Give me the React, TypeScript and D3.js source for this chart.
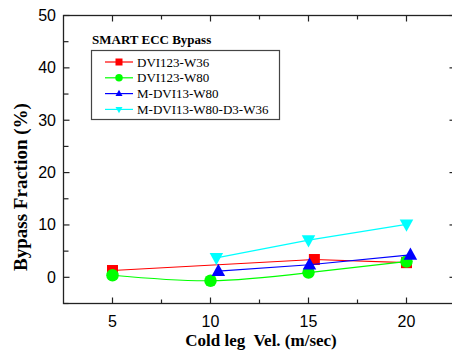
import React from 'react';
import * as d3 from 'd3';

// values
const red_x = [5, 15.3, 20];
const red_y = [1.3, 3.4, 2.8];
const green_x = [5, 10, 15, 20];
const green_y = [0.4, -0.65, 0.9, 3.0];
const blue_x = [10.4, 15.05, 20.2];
const blue_y = [1.2, 2.4, 4.3];
const cyan_x = [10.3, 15, 20];
const cyan_y = [3.7, 7.1, 10.1];

const seriesNames = ['DVI123-W36', 'DVI123-W80', 'M-DVI13-W80', 'M-DVI13-W80-D3-W36'];
const xTicks = [5, 10, 15, 20];
const xMinor = [7.5, 12.5, 17.5];
const yTicks = [0, 10, 20, 30, 40, 50];
const yMinor = [-5, 5, 15, 25, 35, 45];

const W = 452;
const H = 360;

const serif = '"Liberation Serif", "Times New Roman", serif';
const sans = '"Liberation Sans", Arial, sans-serif';

const x = d3.scaleLinear().domain([2.5, 22.5]).range([63.5, 455.5]);
const y = d3.scaleLinear().domain([-5, 50]).range([303.5, 15.5]);

type Pt = [number, number];
const zip = (xs: number[], ys: number[]): Pt[] => xs.map((v, i) => [v, ys[i]]);

const series = [
  { name: seriesNames[0], color: '#ff0000', shape: 'square', pts: zip(red_x, red_y), curve: d3.curveLinear },
  { name: seriesNames[1], color: '#00ff00', shape: 'circle', pts: zip(green_x, green_y), curve: d3.curveNatural },
  { name: seriesNames[2], color: '#0000ff', shape: 'up', pts: zip(blue_x, blue_y), curve: d3.curveLinear },
  { name: seriesNames[3], color: '#00ffff', shape: 'down', pts: zip(cyan_x, cyan_y), curve: d3.curveLinear },
];

function Marker({ shape, cx, cy, color, s }: { shape: string; cx: number; cy: number; color: string; s: number }) {
  if (shape === 'square') {
    return <rect x={cx - s / 2} y={cy - s / 2} width={s} height={s} fill={color} />;
  }
  if (shape === 'circle') {
    return <circle cx={cx} cy={cy} r={s / 2} fill={color} />;
  }
  const h = s * 0.9;
  const pts = shape === 'up'
    ? [[cx, cy - h * 0.6], [cx - s / 2, cy + h * 0.4], [cx + s / 2, cy + h * 0.4]]
    : [[cx, cy + h * 0.6], [cx - s / 2, cy - h * 0.4], [cx + s / 2, cy - h * 0.4]];
  return <polygon points={pts.map(p => p.join(',')).join(' ')} fill={color} />;
}

export default function App() {
  const x0 = x.range()[0];
  const x1 = x.range()[1];
  const y0 = y.range()[0];
  const y1 = y.range()[1];
  const axisColor = '#222';

  return (
    <svg width={W} height={H} style={{ position: 'absolute', left: 0, top: 0, background: '#fff' }}>
      {/* frame */}
      <rect x={x0} y={y1} width={x1 - x0} height={y0 - y1} fill="none" stroke={axisColor} strokeWidth={1.3} />

      {/* x ticks, bottom and top */}
      {xTicks.map(t => (
        <g key={'xt' + t}>
          <line x1={x(t)} x2={x(t)} y1={y0} y2={y0 - 6} stroke={axisColor} strokeWidth={1.2} />
          <line x1={x(t)} x2={x(t)} y1={y1} y2={y1 + 6} stroke={axisColor} strokeWidth={1.2} />
          <text x={x(t)} y={327} textAnchor="middle" fontFamily={sans} fontSize={16} fill="#000">{t}</text>
        </g>
      ))}
      {xMinor.map(t => (
        <g key={'xm' + t}>
          <line x1={x(t)} x2={x(t)} y1={y0} y2={y0 - 4} stroke={axisColor} strokeWidth={1.2} />
          <line x1={x(t)} x2={x(t)} y1={y1} y2={y1 + 4} stroke={axisColor} strokeWidth={1.2} />
        </g>
      ))}

      {/* y ticks, left and right */}
      {yTicks.map(t => (
        <g key={'yt' + t}>
          <line x1={x0} x2={x0 + 6} y1={y(t)} y2={y(t)} stroke={axisColor} strokeWidth={1.2} />
          <line x1={x1} x2={x1 - 6} y1={y(t)} y2={y(t)} stroke={axisColor} strokeWidth={1.2} />
          <text x={56} y={y(t) + 5.5} textAnchor="end" fontFamily={sans} fontSize={16} fill="#000">{t}</text>
        </g>
      ))}
      {yMinor.map(t => (
        <line key={'ym' + t} x1={x0} x2={x0 + 5} y1={y(t)} y2={y(t)} stroke={axisColor} strokeWidth={1.2} />
      ))}

      {/* axis titles */}
      <text x={261} y={346} textAnchor="middle" fontFamily={serif} fontWeight="bold" fontSize={17} fill="#000">
        Cold leg{'\u00a0'} Vel. (m/sec)
      </text>
      <text transform={`translate(27, 187) rotate(-90)`} textAnchor="middle" fontFamily={serif} fontWeight="bold" fontSize={19} fill="#000">
        Bypass Fraction (%)
      </text>

      {/* lines and markers */}
      {series.map(s => {
        const line = d3.line<Pt>().x(d => x(d[0])).y(d => y(d[1])).curve(s.curve);
        return (
          <g key={s.name}>
            <path d={line(s.pts) || ''} fill="none" stroke={s.color} strokeWidth={1.2} />
            {s.pts.map((p, i) => (
              <Marker key={i} shape={s.shape} cx={x(p[0])} cy={y(p[1])} color={s.color}
                s={s.shape === 'square' ? 11 : s.shape === 'circle' ? 12.5 : 13.5} />
            ))}
          </g>
        );
      })}

      {/* legend */}
      <text x={92} y={44} fontFamily={serif} fontWeight="bold" fontSize={13} fill="#000">SMART ECC Bypass</text>
      <rect x={91.5} y={50.5} width={188} height={69} fill="#fff" stroke="#444" strokeWidth={1.2} />
      {series.map((s, i) => {
        const cy = 62 + i * 15.8;
        return (
          <g key={'lg' + s.name}>
            <line x1={105} x2={133} y1={cy} y2={cy} stroke={s.color} strokeWidth={1.2} />
            <Marker shape={s.shape} cx={119} cy={cy} color={s.color} s={s.shape === 'circle' ? 7.5 : 7} />
            <text x={137} y={cy + 4.5} fontFamily={serif} fontSize={13} fill="#000">{s.name}</text>
          </g>
        );
      })}
    </svg>
  );
}
